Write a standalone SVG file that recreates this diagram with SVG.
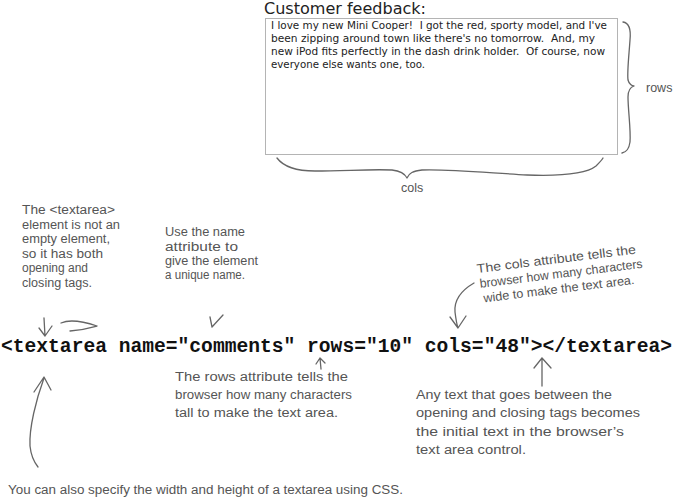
<svg xmlns="http://www.w3.org/2000/svg" width="674" height="501" viewBox="0 0 674 501">
<style>
.hand{font-family:"Liberation Sans","DejaVu Sans",sans-serif;font-size:12.5px;fill:#555}
.ui{font-family:"DejaVu Sans","Liberation Sans",sans-serif;fill:#222;white-space:pre}
.code{font-family:"Liberation Mono","DejaVu Sans Mono",monospace;font-weight:bold;font-size:19.6px;fill:#111}
.ln{fill:none;stroke:#666;stroke-width:1.3;stroke-linecap:round;stroke-linejoin:round}
</style>
<rect width="674" height="501" fill="#fff"/>
<g id="feedback-form">
<text class="ui" x="264" y="14" font-size="16" textLength="162" lengthAdjust="spacingAndGlyphs">Customer feedback:</text>
<rect x="265.5" y="18.5" width="352" height="136" fill="#fff" stroke="#b4b4b4" stroke-width="1"/>
<text class="ui" font-size="10" x="271" y="29" textLength="336" lengthAdjust="spacingAndGlyphs" xml:space="preserve">I love my new Mini Cooper!  I got the red, sporty model, and I've</text>
<text class="ui" font-size="10" x="271" y="42" textLength="324" lengthAdjust="spacingAndGlyphs" xml:space="preserve">been zipping around town like there's no tomorrow.  And, my</text>
<text class="ui" font-size="10" x="271" y="55" textLength="334" lengthAdjust="spacingAndGlyphs" xml:space="preserve">new iPod fits perfectly in the dash drink holder.  Of course, now</text>
<text class="ui" font-size="10" x="271" y="68" textLength="154" lengthAdjust="spacingAndGlyphs">everyone else wants one, too.</text>
</g>
<g id="rows-label">
<path class="ln" d="M623,22 C630,23 631,30 630,40 C629,55 627,72 628,80 C629,84 632,86 634,86 C631,87 628,90 628,97 C628,110 631,130 630,142 C629,149 627,152 622,153"/>
<text class="hand" x="646" y="92" font-size="11">rows</text>
</g>
<g id="cols-label">
<path class="ln" d="M277,158 C283,166 295,171 315,171 C345,171 370,169 392,170 C401,171 405,174 407,178 C409,173 413,171 422,170 C450,169 490,173 527,175 C555,176 585,175 596,166 C599,163 602,160 603,158"/>
<text class="hand" x="401" y="192" font-size="11">cols</text>
</g>
<g id="note-element">
<text class="hand" x="22" y="214" textLength="93" lengthAdjust="spacingAndGlyphs">The &lt;textarea&gt;</text>
<text class="hand" x="22" y="228.5" textLength="98" lengthAdjust="spacingAndGlyphs">element is not an</text>
<text class="hand" x="22" y="243" textLength="88" lengthAdjust="spacingAndGlyphs">empty element,</text>
<text class="hand" x="22" y="257.5" textLength="81" lengthAdjust="spacingAndGlyphs">so it has both</text>
<text class="hand" x="22" y="272" textLength="66" lengthAdjust="spacingAndGlyphs">opening and</text>
<text class="hand" x="22" y="286.5" textLength="70" lengthAdjust="spacingAndGlyphs">closing tags.</text>
</g>
<g id="note-name">
<text class="hand" x="165" y="236" textLength="80" lengthAdjust="spacingAndGlyphs">Use the name</text>
<text class="hand" x="165" y="250.5" textLength="73" lengthAdjust="spacingAndGlyphs">attribute to</text>
<text class="hand" x="165" y="265" textLength="93" lengthAdjust="spacingAndGlyphs">give the element</text>
<text class="hand" x="165" y="279" textLength="80" lengthAdjust="spacingAndGlyphs">a unique name.</text>
</g>
<g id="note-cols" transform="rotate(-7 477 270)">
<text class="hand" x="477" y="273" textLength="160" lengthAdjust="spacingAndGlyphs">The cols attribute tells the</text>
<text class="hand" x="478" y="288" textLength="164" lengthAdjust="spacingAndGlyphs">browser how many characters</text>
<text class="hand" x="480" y="303" textLength="152" lengthAdjust="spacingAndGlyphs">wide to make the text area.</text>
</g>
<g id="code">
<text class="code" x="1" y="352" textLength="671" lengthAdjust="spacingAndGlyphs">&lt;textarea name="comments" rows="10" cols="48"&gt;&lt;/textarea&gt;</text>
</g>
<g id="note-rows">
<text class="hand" x="175" y="381" textLength="173" lengthAdjust="spacingAndGlyphs">The rows attribute tells the</text>
<text class="hand" x="175" y="399" textLength="177" lengthAdjust="spacingAndGlyphs">browser how many characters</text>
<text class="hand" x="175" y="417" textLength="163" lengthAdjust="spacingAndGlyphs">tall to make the text area.</text>
</g>
<g id="note-text">
<text class="hand" x="416" y="399" textLength="196" lengthAdjust="spacingAndGlyphs">Any text that goes between the</text>
<text class="hand" x="416" y="417" textLength="224" lengthAdjust="spacingAndGlyphs">opening and closing tags becomes</text>
<text class="hand" x="416" y="436" textLength="208" lengthAdjust="spacingAndGlyphs">the initial text in the browser’s</text>
<text class="hand" x="416" y="454" textLength="110" lengthAdjust="spacingAndGlyphs">text area control.</text>
</g>
<g id="note-css">
<text class="hand" x="8" y="494" textLength="395" lengthAdjust="spacingAndGlyphs">You can also specify the width and height of a textarea using CSS.</text>
</g>
<g id="connectors">
<path class="ln" d="M44,318 L45,336 M39,328 L45,336 L52,326"/>
<path class="ln" d="M61,323 C70,319 82,321 97,326 M70,331 C80,330 90,328 97,326"/>
<path class="ln" d="M223,315 L212,327 M210,317 L212,327"/>
<path class="ln" d="M474,283 C462,290 454,300 455,312 C456,320 457,325 458,328 M450,317 L458,328 L466,316"/>
<path class="ln" d="M320,358 L321,369 M316,364 L320,358 L325,363"/>
<path class="ln" d="M542,358 L542,386 M534,368 L542,358 L551,368"/>
<path class="ln" d="M44,378 C36,400 29,428 30,446 C31,456 34,462 38,467 M34,392 L44,377 L51,390"/>
</g>
</svg>
